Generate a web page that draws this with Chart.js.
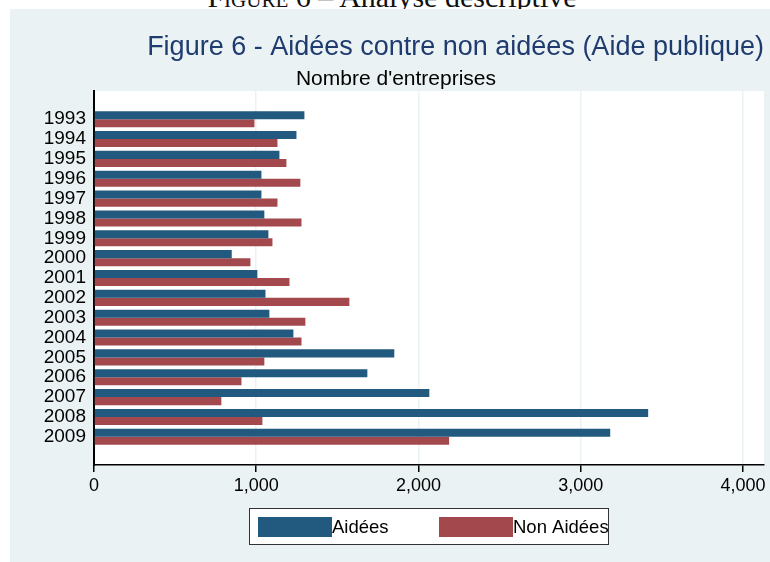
<!DOCTYPE html>
<html>
<head>
<meta charset="utf-8">
<script src="https://cdn.jsdelivr.net/npm/chart.js@4"></script>
<style>
	html, body { margin: 0; padding: 0; background: #fff; width: 770px; height: 562px; overflow: hidden; }
	#caption { position: absolute; left: 0; top: -18px; width: 784px; text-align: center; font: 30px "Liberation Serif", serif; line-height: 30px; color: #111; white-space: nowrap; }
	#caption span { font-variant: small-caps; }
	#panel { position: absolute; left: 10px; top: 9px; width: 760px; height: 553px; background: #eaf2f3; }
</style>
</head>
<body>
<div id="caption"><span>Figure</span> 6 – Analyse descriptive</div>
<div id="panel"><canvas id="chart" width="760" height="553"></canvas></div>
<script>
var years				 =	[1993, 1994, 1995, 1996, 1997, 1998, 1999, 2000, 2001, 2002, 2003, 2004, 2005, 2006, 2007, 2008, 2009];
var aidees				 =	[1297, 1248, 1143, 1032, 1032, 1050, 1075, 849, 1007, 1057, 1081, 1229, 1851, 1685, 2067, 3416, 3182];
var nonAidees			 =	[989, 1131, 1186, 1272, 1131, 1279, 1100, 964, 1205, 1574, 1303, 1279, 1050, 909, 785, 1038, 2189];
var xTicks				 =	[0, 1000, 2000, 3000, 4000];
var seriesLabels		 =	["Aidées", "Non Aidées"];

var blue				 =	"#22597f";
var red					 =	"#a3494e";
var panelColour			 =	"#eaf2f3";

/**
 * White plot region behind the bars
 */
var plotBackground		 =	{
	id					 :	"plotBackground",
	beforeDraw			 :	function (chart) {
		var a			 =	chart.chartArea;
		var ctx			 =	chart.ctx;
		ctx.save();
		ctx.fillStyle	 =	"#fff";
		ctx.fillRect(a.left, a.top, a.right - a.left, a.bottom - a.top);
		ctx.restore();
	}
};

/**
 * Stata-like legend: framed box, swatch glued to text
 */
var boxLegend			 =	{
	id					 :	"boxLegend",
	afterDraw			 :	function (chart) {
		var a			 =	chart.chartArea;
		var ctx			 =	chart.ctx;
		var w			 =	360;
		var h			 =	37;
		var x			 =	Math.round((a.left + a.right) / 2 - w / 2);
		var y			 =	a.bottom + 43;
		ctx.save();
		ctx.fillStyle	 =	"#fff";
		ctx.fillRect(x, y, w, h);
		ctx.beginPath();
		ctx.rect(x, y, w, h);
		ctx.clip();
		ctx.font		 =	"18.5px 'Liberation Sans', Arial, sans-serif";
		ctx.textBaseline =	"middle";
		chart.data.datasets.forEach(function (ds, i) {
			var sx		 =	x + 9 + i * 181;
			ctx.fillStyle = ds.backgroundColor;
			ctx.fillRect(sx, y + 9, 74, 20);
			ctx.fillStyle = "#000";
			ctx.fillText(ds.label, sx + 74, y + 20);
		});
		ctx.restore();
		ctx.save();
		ctx.strokeStyle	 =	"#333";
		ctx.lineWidth	 =	1;
		ctx.strokeRect(x + 0.5, y + 0.5, w - 1, h - 1);
		ctx.restore();
	}
};

/**
 * Renders the chart
 */
function renderChart() {
	
	var config			 =	{
		type			 :	"bar",
		data			 :	{
			labels		 :	years,
			datasets	 :	[
				{ label: seriesLabels[0], data: aidees, backgroundColor: blue },
				{ label: seriesLabels[1], data: nonAidees, backgroundColor: red }
			]
		},
		plugins			 :	[plotBackground, boxLegend],
		options			 :	{
			indexAxis	 :	"y",
			responsive	 :	false,
			animation	 :	false,
			devicePixelRatio : 1,
			categoryPercentage : 0.81,
			barPercentage : 1.0,
			layout		 :	{ padding: { left: 18, right: 6, top: 0, bottom: 0 } },
			plugins		 :	{
				legend	 :	{ display: false },
				tooltip	 :	{ enabled: false },
				title	 :	{
					display	 :	true,
					text	 :	"Figure 6 - Aidées contre non aidées (Aide publique)",
					align	 :	"end",
					color	 :	"#1f3b6f",
					font	 :	{ family: "'Liberation Sans', Arial, sans-serif", size: 27, weight: "normal", lineHeight: 1 },
					padding	 :	{ top: 25, bottom: 0 }
				},
				subtitle :	{
					display	 :	true,
					text	 :	"Nombre d'entreprises",
					color	 :	"#000",
					font	 :	{ family: "'Liberation Sans', Arial, sans-serif", size: 21, lineHeight: 1 },
					padding	 :	{ top: 8, bottom: 1 }
				}
			},
			scales		 :	{
				x		 :	{
					type	 :	"linear",
					min		 :	0,
					max		 :	4130,
					afterBuildTicks : function (scale) {
						scale.ticks = xTicks.map(function (v) { return { value: v }; });
					},
					afterFit :	function (scale) { scale.height = 97; },
					grid	 :	{ color: panelColour, lineWidth: 1.5, drawTicks: true, tickLength: 7, tickColor: "#000", tickWidth: 1.5 },
					border	 :	{ display: true, color: "#000", width: 1.5 },
					ticks	 :	{
						color	 :	"#000",
						padding	 :	3,
						font	 :	{ family: "'Liberation Sans', Arial, sans-serif", size: 18 },
						callback :	function (v) { return v.toLocaleString("en-US"); }
					}
				},
				y		 :	{
					type	 :	"linear",
					reverse	 :	true,
					offset	 :	false,
					min		 :	years[0] - 1.42,
					max		 :	years[years.length - 1] + 1.42,
					afterBuildTicks : function (scale) {
						scale.ticks = years.map(function (v) { return { value: v }; });
					},
					afterFit :	function (scale) { scale.width = 66; },
					grid	 :	{ display: false, drawTicks: false, offset: false },
					border	 :	{ display: true, color: "#000", width: 2 },
					ticks	 :	{
						color	 :	"#000",
						padding	 :	8,
						autoSkip :	false,
						font	 :	{ family: "'Liberation Sans', Arial, sans-serif", size: 19 },
						callback :	function (v) { return String(v); }
					}
				}
			}
		}
	};
	
	new Chart(document.getElementById("chart"), config);
	
}

renderChart();
</script>
</body>
</html>
